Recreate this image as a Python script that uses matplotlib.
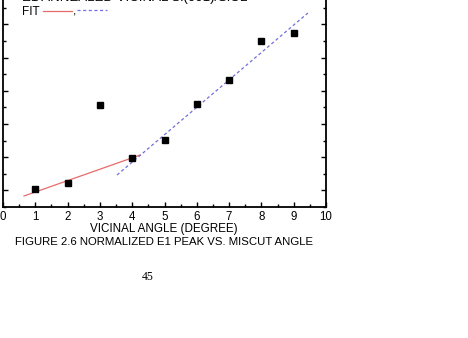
import matplotlib
matplotlib.use('Agg')
import matplotlib.pyplot as plt
import numpy as np

# data (normalized E1 peak, arbitrary units)
angle = [1, 2, 3, 4, 5, 6, 7, 8, 9]
e1_peak = [1.02, 1.11, 2.29, 1.49, 1.76, 2.30, 2.66, 3.25, 3.37]

# fit lines (end points)
fit_low_x = [0.65, 4.25]
fit_low_y = [0.916, 1.533]
fit_high_x = [3.53, 9.44]
fit_high_y = [1.232, 3.672]

xticks = np.arange(0, 11, 1)
xlabels = [str(v) for v in xticks]

plt.rcParams['font.family'] = ['Liberation Sans', 'DejaVu Sans']

W, H = 468, 338
fig = plt.figure(figsize=(W / 100, H / 100), dpi=100)

def px(x, y):
    return x / W, 1 - y / H

red = '#e66b6b'
blue = '#7070dc'

# axes box: left 3px, right 326px, bottom 207px, top above the page crop
ax = fig.add_axes([3 / W, 1 - 207 / H, 323 / W, (207 + 8.8) / H])
ax.set_xlim(0, 10)
ax.set_ylim(0.75, 4.0)

ax.plot(fit_low_x, fit_low_y, color=red, lw=0.9)
ax.plot(fit_high_x, fit_high_y, color=blue, lw=0.9, ls=(0, (2.5, 2)))
ax.plot(angle, e1_peak, 's', color='black', ms=4.3, ls='none')

ax.set_xticks(xticks)
ax.set_xticklabels(xlabels, fontsize=8.3)
ax.set_xticks(np.arange(0.5, 10, 1), minor=True)
ax.set_yticks(np.arange(1.0, 4.0, 0.5))
ax.set_yticks(np.arange(0.75, 4.0, 0.5), minor=True)
ax.set_yticklabels([])
ax.tick_params(which='both', direction='in', width=1.0, right=True, top=False)
ax.tick_params(which='major', length=3.6, pad=3)
ax.tick_params(which='minor', length=2.2)
for s in ax.spines.values():
    s.set_linewidth(1.3)

fig.text(*px(164, 229), 'VICINAL ANGLE (DEGREE)', fontsize=8.4, ha='center', va='center')
fig.text(*px(164, 242), 'FIGURE 2.6 NORMALIZED E1 PEAK VS. MISCUT ANGLE', fontsize=8.2,
         ha='center', va='center')

# legend / title block (title is cut by the page crop, as in the source)
fig.text(*px(22, -1.5), 'E1 ANNEALED VICINAL Si(001)/SiO2', fontsize=9.5, va='center', ha='left')
fig.text(*px(22, 12), 'FIT', fontsize=8.5, va='center', ha='left')
fig.add_artist(plt.Line2D([43 / W, 72 / W], [1 - 11 / H, 1 - 11 / H], color=red, lw=0.9))
fig.text(*px(73, 12), ',', fontsize=8.5, va='center', ha='left')
fig.add_artist(plt.Line2D([77 / W, 107 / W], [1 - 10 / H, 1 - 10 / H], color=blue, lw=0.9,
                          ls=(0, (2.5, 2))))

fig.text(*px(148, 277), '45', fontsize=8.5, ha='center', va='center', family='Liberation Serif')

fig.savefig('out.png', dpi=100)
